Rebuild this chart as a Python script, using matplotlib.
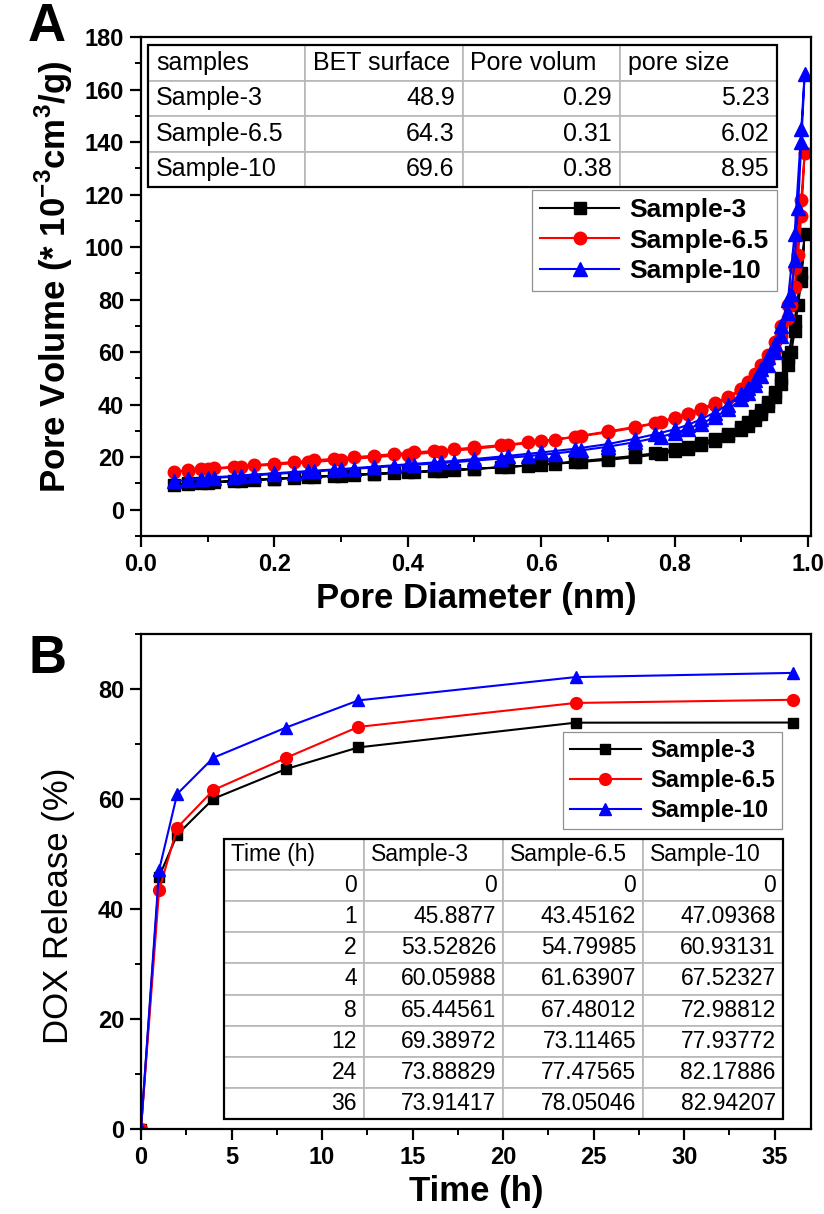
import numpy as np
import matplotlib
matplotlib.use('Agg')
import matplotlib.pyplot as plt
from matplotlib.table import Table
from matplotlib.patches import Rectangle
from matplotlib.ticker import MultipleLocator

plt.rcParams['font.family'] = ['Liberation Sans', 'DejaVu Sans']
plt.rcParams['mathtext.fontset'] = 'custom'
plt.rcParams['mathtext.rm'] = 'Liberation Sans:bold'
plt.rcParams['mathtext.bf'] = 'Liberation Sans:bold'

#==================== panel A data (pore volume) ====================#
x_ads = [0.05, 0.07, 0.09, 0.11, 0.14, 0.17, 0.2, 0.23, 0.26, 0.29, 0.32, 0.35, 0.38, 0.41,
         0.44, 0.47, 0.5, 0.54, 0.58, 0.62, 0.66, 0.7, 0.74, 0.78, 0.8, 0.82, 0.84, 0.86,
         0.88, 0.9, 0.91, 0.92, 0.93, 0.94, 0.95, 0.96, 0.97, 0.975, 0.98, 0.985, 0.99, 0.995]
x_des = [0.99, 0.98, 0.97, 0.96, 0.95, 0.94, 0.93, 0.92, 0.91, 0.9, 0.88, 0.86, 0.84, 0.82,
         0.8, 0.77, 0.74, 0.7, 0.65, 0.6, 0.55, 0.5, 0.45, 0.4, 0.35, 0.3, 0.25, 0.2, 0.15,
         0.1, 0.07]

s3_ads = [9.5, 10.0, 10.3, 10.6, 11.0, 11.4, 11.8, 12.2, 12.6, 13.0, 13.3, 13.7, 14.0, 14.4,
          14.8, 15.2, 15.6, 16.2, 16.8, 17.5, 18.2, 19.0, 20.0, 21.3, 22.2, 23.2, 24.5, 26.0,
          28.0, 30.5, 32.0, 34.0, 36.5, 39.5, 43.0, 48.0, 55.0, 60.0, 68.0, 78.0, 87.0, 105.0]
s3_des = [90, 72, 58, 50, 45, 41, 38, 35.5, 33.5, 31.5, 29.0, 27.0, 25.5, 24.0, 23.0, 21.5,
          20.5, 19.5, 18.3, 17.2, 16.3, 15.5, 14.8, 14.2, 13.6, 13.0, 12.3, 11.7, 11.0, 10.3, 9.9]

s65_ads = [14.5, 15.0, 15.4, 15.8, 16.4, 17.0, 17.6, 18.2, 18.8, 19.4, 20.0, 20.6, 21.2, 21.8,
           22.4, 23.0, 23.7, 24.6, 25.6, 26.7, 28.0, 29.5, 31.2, 33.4, 34.8, 36.3, 38.0, 40.0,
           42.5, 45.5, 47.5, 50.0, 53.0, 56.5, 61.0, 66.0, 73.0, 78.0, 85.0, 97.0, 112.0, 136.0]
s65_des = [118, 92, 78, 70, 64, 59, 55, 51.5, 48.5, 46, 43, 40.5, 38.5, 36.5, 35, 33, 31.5,
           29.8, 27.8, 26, 24.5, 23.2, 22, 21, 20, 19, 18, 17.2, 16.3, 15.4, 14.9]

s10_ads = [10.8, 11.3, 11.7, 12.1, 12.6, 13.1, 13.6, 14.1, 14.6, 15.1, 15.6, 16.1, 16.6, 17.1,
           17.6, 18.1, 18.7, 19.5, 20.4, 21.4, 22.6, 24.0, 25.7, 27.8, 29.2, 30.8, 32.8, 35.2,
           38.2, 42.0, 44.5, 47.5, 51.0, 55.0, 60.0, 66.0, 75.0, 82.0, 95.0, 115.0, 140.0, 166.0]
s10_des = [145, 105, 80, 70, 63, 58, 53.5, 49.5, 46.5, 44, 40, 37, 34.5, 32.3, 30.6, 28.7, 27,
           25, 23.2, 21.8, 20.5, 19.3, 18.2, 17.3, 16.4, 15.5, 14.7, 13.9, 13.0, 12.2, 11.6]

bet_header = ['samples', 'BET surface', 'Pore volum', 'pore size']
bet_samples = ['Sample-3', 'Sample-6.5', 'Sample-10']
bet_surface = ['48.9', '64.3', '69.6']
bet_volume = ['0.29', '0.31', '0.38']
bet_size = ['5.23', '6.02', '8.95']

#==================== panel B data (DOX release) ====================#
time_h = [0, 1, 2, 4, 8, 12, 24, 36]
rel_s3 = [0, 45.8877, 53.52826, 60.05988, 65.44561, 69.38972, 73.88829, 73.91417]
rel_s65 = [0, 43.45162, 54.79985, 61.63907, 67.48012, 73.11465, 77.47565, 78.05046]
rel_s10 = [0, 47.09368, 60.93131, 67.52327, 72.98812, 77.93772, 82.17886, 82.94207]
rel_header = ['Time (h)', 'Sample-3', 'Sample-6.5', 'Sample-10']
rel_time_txt = ['0', '1', '2', '4', '8', '12', '24', '36']
rel_s3_txt = ['0', '45.8877', '53.52826', '60.05988', '65.44561', '69.38972', '73.88829', '73.91417']
rel_s65_txt = ['0', '43.45162', '54.79985', '61.63907', '67.48012', '73.11465', '77.47565', '78.05046']
rel_s10_txt = ['0', '47.09368', '60.93131', '67.52327', '72.98812', '77.93772', '82.17886', '82.94207']

names = ['Sample-3', 'Sample-6.5', 'Sample-10']
colors = ['black', 'red', 'blue']
marks = ['s', 'o', '^']


def draw_table(ax, rows, bbox, fs, header_left_all):
    tb = Table(ax, bbox=bbox)
    nr, nc = len(rows), len(rows[0])
    for r in range(nr):
        for c in range(nc):
            if r == 0 or (c == 0 and not header_left_all):
                loc = 'left'
            else:
                loc = 'right'
            cell = tb.add_cell(r, c, width=1.0 / nc, height=1.0 / nr, text=rows[r][c],
                               loc=loc, edgecolor='#b8b8b8', facecolor='white')
            cell.PAD = 0.05
            cell.set_linewidth(1.2)
    tb.auto_set_font_size(False)
    tb.set_fontsize(fs)
    tb.set_zorder(5)
    ax.add_table(tb)
    ax.add_patch(Rectangle((bbox[0], bbox[1]), bbox[2], bbox[3], transform=ax.transAxes,
                           fill=False, ec='black', lw=1.6, zorder=6))


def style_axes(ax):
    for s in ax.spines.values():
        s.set_linewidth(1.6)
    ax.tick_params(which='major', direction='out', length=8, width=1.6, labelsize=17, pad=4)
    ax.tick_params(which='minor', direction='out', length=4.5, width=1.4)
    for lab in ax.get_xticklabels() + ax.get_yticklabels():
        lab.set_fontweight('bold')


fig = plt.figure(figsize=(8.24, 12.14), dpi=100)

#========================panel A==========================#
axA = fig.add_axes([0.1711, 0.5585, 0.8131, 0.4110])
ads = [s3_ads, s65_ads, s10_ads]
des = [s3_des, s65_des, s10_des]
msz = [8, 9, 9.5]
for i in range(3):
    xs = x_ads + x_des
    ys = ads[i] + des[i]
    axA.plot(xs, ys, color=colors[i], marker=marks[i], ms=msz[i], lw=1.5, label=names[i])
axA.set_xlim(0, 1.0045)
axA.set_ylim(-10, 180)
axA.xaxis.set_major_locator(MultipleLocator(0.2))
axA.xaxis.set_minor_locator(MultipleLocator(0.1))
axA.yaxis.set_major_locator(MultipleLocator(20))
axA.yaxis.set_minor_locator(MultipleLocator(10))
style_axes(axA)
axA.set_xlabel('Pore Diameter (nm)', fontsize=25, fontweight='bold')
axA.set_ylabel(r'Pore Volume (* 10$^{-3}$cm$^{3}$/g)', fontsize=25, fontweight='bold')
axA.xaxis.set_label_coords(0.5, -0.093)
axA.yaxis.set_label_coords(-0.098, 0.52)
legA = axA.legend(loc='upper right', bbox_to_anchor=(0.949, 0.693), borderaxespad=0,
                  prop={'weight': 'bold', 'size': 19}, handlelength=3.0, fancybox=False,
                  edgecolor='#909090', framealpha=1, borderpad=0.3, labelspacing=0.25,
                  handletextpad=0.4)
legA.get_frame().set_linewidth(0.9)
legA.set_zorder(5)
tabA = [bet_header] + [[bet_samples[k], bet_surface[k], bet_volume[k], bet_size[k]] for k in range(3)]
draw_table(axA, tabA, [0.0104, 0.699, 0.939, 0.285], 18, False)
fig.text(0.034, 0.998, 'A', fontsize=38, fontweight='bold', va='top', ha='left')

#========================panel B==========================#
axB = fig.add_axes([0.1711, 0.0700, 0.8131, 0.4077])
relB = [rel_s3, rel_s65, rel_s10]
mszB = [7.5, 8.5, 9]
for i in range(3):
    axB.plot(time_h, relB[i], color=colors[i], marker=marks[i], ms=mszB[i], lw=1.5, label=names[i])
axB.set_xlim(0, 37)
axB.set_ylim(0, 90)
axB.xaxis.set_major_locator(MultipleLocator(5))
axB.xaxis.set_minor_locator(MultipleLocator(2.5))
axB.yaxis.set_major_locator(MultipleLocator(20))
axB.yaxis.set_minor_locator(MultipleLocator(10))
style_axes(axB)
axB.set_xlabel('Time (h)', fontsize=25, fontweight='bold')
axB.set_ylabel('DOX Release (%)', fontsize=25)
axB.xaxis.set_label_coords(0.5, -0.093)
axB.yaxis.set_label_coords(-0.098, 0.45)
legB = axB.legend(loc='upper right', bbox_to_anchor=(0.957, 0.802), borderaxespad=0,
                  prop={'weight': 'bold', 'size': 17}, handlelength=3.0, fancybox=False,
                  edgecolor='#909090', framealpha=1, borderpad=0.3, labelspacing=0.3,
                  handletextpad=0.4)
legB.get_frame().set_linewidth(0.9)
legB.set_zorder(5)
tabB = [rel_header] + [[rel_time_txt[k], rel_s3_txt[k], rel_s65_txt[k], rel_s10_txt[k]]
                       for k in range(len(rel_time_txt))]
draw_table(axB, tabB, [0.124, 0.0202, 0.834, 0.566], 16.5, True)
fig.text(0.034, 0.478, 'B', fontsize=38, fontweight='bold', va='top', ha='left')

fig.savefig('out.png', dpi=100)
